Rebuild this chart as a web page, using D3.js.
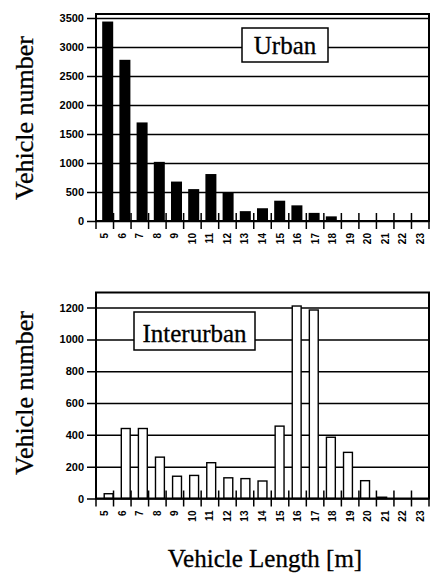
<!DOCTYPE html>
<meta charset="utf-8">
<html lang="en">
<head>
    <title>Vehicle length distribution</title>
    <script src="https://d3js.org/d3.v7.min.js"></script>
    <style>
        body {
            margin: 0;
            background: #fff;
        }
        .tick text {
            font-family: "Liberation Sans", Arial, sans-serif;
            font-weight: bold;
            font-size: 11px;
            fill: #000;
        }
        .title {
            font-family: "Liberation Serif", "Times New Roman", serif;
            fill: #000;
            stroke: #000;
            stroke-width: 0.3px;
        }
    </style>
</head>
<body>
    <svg width="432" height="574"></svg>
    <script>
        // Vehicle length classes [m]
        var lengths = ["5", "6", "7", "8", "9", "10", "11", "12", "13", "14", "15", "16", "17", "18", "19", "20", "21", "22", "23"];

        // Counts
        var urbanCounts = [3440, 2780, 1700, 1020, 680, 550, 810, 490, 170, 220, 350, 270, 140, 80, 0, 0, 0, 0, 0];
        var interurbanCounts = [30, 440, 440, 260, 140, 145, 225, 130, 125, 110, 455, 1210, 1185, 385, 290, 112, 8, 0, 0];

        // Y tick labels
        var urbanTicks = [0, 500, 1000, 1500, 2000, 2500, 3000, 3500];
        var interurbanTicks = [0, 200, 400, 600, 800, 1000, 1200];

        var svg = d3.select("svg");

        function drawPanel(opt) {
            var left = 96, right = 429;
            var x = d3.scaleBand()
                .domain(lengths)
                .range([left, right])
                .padding(opt.pad);
            var xb = d3.scaleBand().domain(lengths).range([left, right]);

            var y = d3.scaleLinear()
                .domain([0, opt.max])
                .range([opt.bottom, opt.top]);

            var g = svg.append("g");

            // Y axis with gridlines
            var ya = g.append("g")
                .attr("transform", "translate(" + left + ",0)")
                .call(d3.axisLeft(y)
                    .tickValues(opt.ticks)
                    .tickFormat(d3.format("d"))
                    .tickSizeInner(-(right - left))
                    .tickSizeOuter(0));
            ya.select(".domain").remove();
            ya.selectAll(".tick line")
                .attr("x1", -9)
                .attr("stroke", "#000")
                .attr("stroke-width", 1.5);
            ya.selectAll(".tick text")
                .attr("x", -12);

            // bars
            g.selectAll("rect.bar")
                .data(opt.values)
                .enter().append("rect")
                .attr("class", "bar")
                .attr("x", function(d, i) { return x(lengths[i]); })
                .attr("y", function(d) { return y(d); })
                .attr("width", x.bandwidth())
                .attr("height", function(d) { return opt.bottom - y(d); })
                .attr("fill", opt.fill)
                .attr("stroke", opt.stroke)
                .attr("stroke-width", 1.4);

            // frame
            g.append("rect")
                .attr("x", left)
                .attr("y", opt.top)
                .attr("width", right - left)
                .attr("height", opt.bottom - opt.top)
                .attr("fill", "none")
                .attr("stroke", "#000")
                .attr("stroke-width", 2);

            // x axis labels
            var xa = g.append("g")
                .attr("transform", "translate(0," + opt.bottom + ")")
                .call(d3.axisBottom(xb).tickSize(0));
            xa.select(".domain").remove();
            xa.selectAll(".tick text")
                .attr("transform", "rotate(-90)")
                .attr("x", -12)
                .attr("y", 0)
                .attr("dy", "0.35em")
                .style("text-anchor", "end")
                .style("font-size", "10px");

            // boundary ticks crossing the axis
            var edges = lengths.map(function(d) { return xb(d); }).concat([right]);
            g.selectAll("line.edge")
                .data(edges)
                .enter().append("line")
                .attr("x1", function(d) { return d; })
                .attr("x2", function(d) { return d; })
                .attr("y1", opt.bottom - 8)
                .attr("y2", opt.bottom + 8)
                .attr("stroke", "#000")
                .attr("stroke-width", 1.5);

            // axis title
            g.append("text")
                .attr("class", "title")
                .attr("transform", "translate(33," + opt.labelY + ")rotate(-90)")
                .style("text-anchor", "middle")
                .style("font-size", "26px")
                .text("Vehicle number");

            // label box
            g.append("rect")
                .attr("x", opt.box[0])
                .attr("y", opt.box[1])
                .attr("width", opt.box[2])
                .attr("height", opt.box[3])
                .attr("fill", "#fff")
                .attr("stroke", "#000")
                .attr("stroke-width", 1.5);
            g.append("text")
                .attr("class", "title")
                .attr("x", opt.box[0] + opt.box[2] / 2)
                .attr("y", opt.box[1] + opt.box[3] - 8)
                .style("text-anchor", "middle")
                .style("font-size", "25px")
                .text(opt.name);
        }

        drawPanel({
            name: "Urban",
            values: urbanCounts,
            ticks: urbanTicks,
            max: 3570,
            top: 14,
            bottom: 221,
            pad: 0.36,
            fill: "#000",
            stroke: "none",
            labelY: 118,
            box: [242, 28, 86, 34]
        });

        drawPanel({
            name: "Interurban",
            values: interurbanCounts,
            ticks: interurbanTicks,
            max: 1295,
            top: 292.5,
            bottom: 498.5,
            pad: 0.48,
            fill: "#fff",
            stroke: "#000",
            labelY: 393,
            box: [134, 312, 121, 38]
        });

        // x axis title
        svg.append("text")
            .attr("class", "title")
            .attr("x", 265)
            .attr("y", 567)
            .style("text-anchor", "middle")
            .style("font-size", "25px")
            .text("Vehicle Length [m]");
    </script>
</body>
</html>
